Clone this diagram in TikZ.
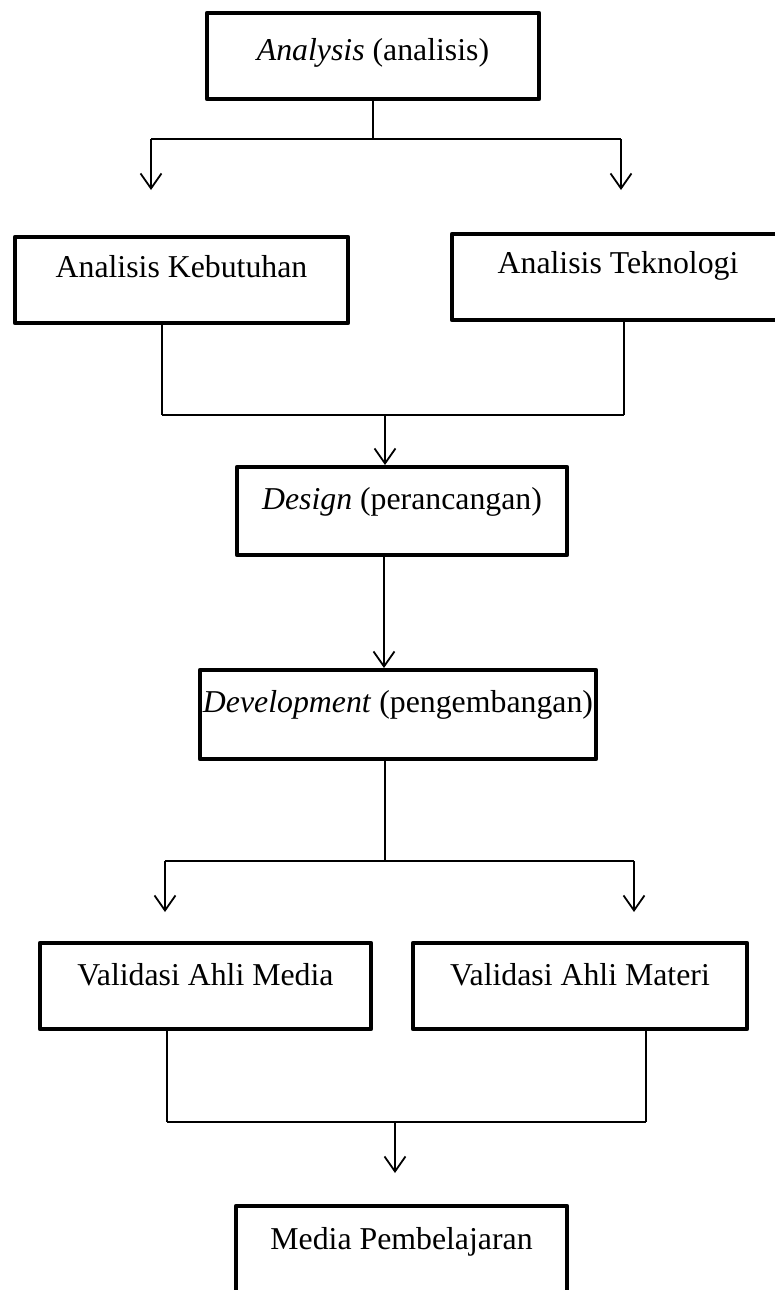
\documentclass[tikz,border=0pt]{standalone}
\usepackage{fontspec}
\setmainfont{Liberation Serif}
\usetikzlibrary{arrows.meta}
\tikzset{
  box/.style={draw, line width=4.5pt, inner sep=0pt, outer sep=0pt, line join=round,
    align=center, font=\fontsize{31.8}{38}\selectfont, anchor=north west},
  conn/.style={line width=1.6pt, line cap=butt},
  arr/.style={line width=1.8pt, -{Straight Barb[length=15pt,width=21pt]}}
}
\newcommand\mybox[7]{%
  \pgfmathsetmacro\bw{#3-#2}%
  \pgfmathsetmacro\bh{#6-#4}%
  \pgfmathsetmacro\bd{#5-#6}%
  \node[box, minimum width=\bw pt, text height=\bh pt, text depth=\bd pt] (#1) at (#2,#4) {#7};%
}
\begin{document}
\begin{tikzpicture}[x=1pt,y=-1pt]
\useasboundingbox (0,0) rectangle (775,1290);
\clip (0,0) rectangle (775,1290);
% boxes
\mybox{ana}{207}{539}{13}{99}{60}{\textit{Analysis} (analisis)}
\mybox{keb}{15}{348}{237}{323}{277}{Analisis Kebutuhan}
\mybox{tek}{452}{784}{234}{320}{273}{Analisis Teknologi}
\mybox{des}{237}{567}{467}{555}{509}{\textit{Design} (perancangan)}
\mybox{dev}{200}{596}{670}{759}{712}{\textit{Development} (pengembangan)}
\mybox{vmed}{40}{371}{943}{1029}{985}{Validasi Ahli Media}
\mybox{vmat}{413}{747}{943}{1029}{985}{Validasi Ahli Materi}
\mybox{med}{236}{567}{1206}{1294}{1249}{Media Pembelajaran}
% coordinates
\coordinate (j1) at (373,139);
\coordinate (j1l) at (151,139);
\coordinate (j1r) at (621,139);
\coordinate (a1l) at (151,190);
\coordinate (a1r) at (621,190);
\coordinate (j2l) at (162,415);
\coordinate (j2r) at (624,415);
\coordinate (j2) at (385,415);
\coordinate (d1) at (385,465);
\coordinate (d2t) at (384,668);
\coordinate (j3) at (385,861);
\coordinate (j3l) at (165,861);
\coordinate (j3r) at (634,861);
\coordinate (a3l) at (165,912);
\coordinate (a3r) at (634,912);
\coordinate (j4l) at (167,1122);
\coordinate (j4r) at (646,1122);
\coordinate (j4) at (395,1122);
\coordinate (a4) at (395,1173);
% connectors
\draw[conn] (ana.south) -- (j1);
\draw[conn] (j1l) -- (j1r);
\draw[arr] (j1l) -- (a1l);
\draw[arr] (j1r) -- (a1r);
\draw[conn] (keb.south -| j2l) -- (j2l);
\draw[conn] (tek.south -| j2r) -- (j2r);
\draw[conn] (j2l) -- (j2r);
\draw[arr] (j2) -- (d1);
\draw[arr] (des.south -| d2t) -- (d2t);
\draw[conn] (dev.south -| j3) -- (j3);
\draw[conn] (j3l) -- (j3r);
\draw[arr] (j3l) -- (a3l);
\draw[arr] (j3r) -- (a3r);
\draw[conn] (vmed.south -| j4l) -- (j4l);
\draw[conn] (vmat.south -| j4r) -- (j4r);
\draw[conn] (j4l) -- (j4r);
\draw[arr] (j4) -- (a4);
\end{tikzpicture}
\end{document}
